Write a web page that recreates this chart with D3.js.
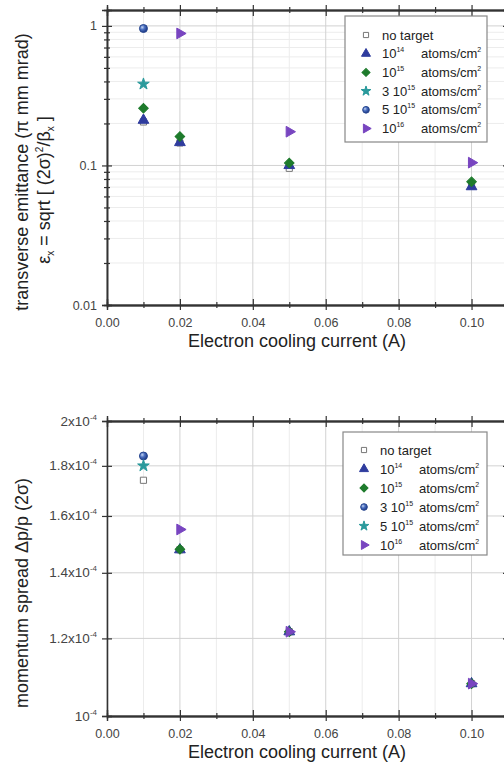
<!DOCTYPE html>
<html>
<head>
<meta charset="utf-8">
<script src="https://cdn.jsdelivr.net/npm/d3@7"></script>
<style>
  body { margin: 0; background: #fff; }
  svg { font-family: "Liberation Sans", Arial, sans-serif; }
</style>
</head>
<body>
<svg class="d3" width="504" height="763"></svg>
<script>
// electron cooling current (A)
var currents = [0.01, 0.02, 0.05, 0.10];

// transverse emittance (pi mm mrad), in legend order of the top panel
var emitNoTarget = [0.205, 0.145, 0.0954, 0.0712];
var emit1e14     = [0.211, 0.146, 0.100, 0.0705];
var emit1e15     = [0.257, 0.161, 0.104, 0.0765];
var emit3e15     = [0.383, null, null, null];     // star
var emit5e15     = [0.958, null, null, null];     // ball
var emit1e16     = [null, 0.883, 0.1745, 0.1047];

// momentum spread dp/p (2 sigma), in legend order of the bottom panel
var dpNoTarget = [1.740e-4, 1.478e-4, 1.219e-4, 1.079e-4];
var dp1e14     = [null, 1.478e-4, 1.219e-4, 1.079e-4];
var dp1e15     = [null, 1.480e-4, 1.219e-4, 1.079e-4];
var dp3e15     = [1.842e-4, null, null, null];    // ball
var dp5e15     = [1.800e-4, null, null, null];    // star
var dp1e16     = [null, 1.550e-4, 1.219e-4, 1.079e-4];

var xTicks = [0, 0.02, 0.04, 0.06, 0.08, 0.10];
var xMinor = [0.01, 0.03, 0.05, 0.07, 0.09, 0.11];
var emitTicks = [0.01, 0.1, 1];
var emitMinor = [0.02, 0.03, 0.04, 0.05, 0.06, 0.07, 0.08, 0.09,
                 0.2, 0.3, 0.4, 0.5, 0.6, 0.7, 0.8, 0.9];
var dpTicks = [1e-4, 1.2e-4, 1.4e-4, 1.6e-4, 1.8e-4, 2e-4];
var dpTickText = ["10", "1.2x10", "1.4x10", "1.6x10", "1.8x10", "2x10"];

// legend labels: [prefix, exponent] ; null exponent = plain text
var legendTop = [["no target", null], ["10", "14"], ["10", "15"],
                 ["3 10", "15"], ["5 10", "15"], ["10", "16"]];
var legendBottom = [["no target", null], ["10", "14"], ["10", "15"],
                    ["3 10", "15"], ["5 10", "15"], ["10", "16"]];

var markers = {
  square:  { fill: "#fff",    stroke: "#777" },
  tri:     { fill: "#2f3c9e", stroke: "#2f3c9e" },
  diamond: { fill: "#1e7b2c", stroke: "#1e7b2c" },
  star:    { fill: "#2a9a9c", stroke: "#2a9a9c" },
  ball:    { fill: "url(#ball)", stroke: "#27468f" },
  right:   { fill: "#7845c0", stroke: "#7845c0" }
};

var svg = d3.select("svg.d3");

// shaded ball marker
var grad = svg.append("defs").append("radialGradient")
    .attr("id", "ball").attr("cx", "35%").attr("cy", "35%").attr("r", "65%");
grad.append("stop").attr("offset", "0%").attr("stop-color", "#c4d4f2");
grad.append("stop").attr("offset", "45%").attr("stop-color", "#4a6fc0");
grad.append("stop").attr("offset", "100%").attr("stop-color", "#1f3a86");

var x = d3.scaleLinear().domain([0, 0.11]).range([107, 508]);

function markerPath(kind, scale) {
  scale = scale || 1;
  if (kind === "square") return d3.symbol(d3.symbolSquare, 38 * scale)();
  if (kind === "tri" || kind === "right") return d3.symbol(d3.symbolTriangle, 50 * scale)();
  if (kind === "diamond") return d3.symbol(d3.symbolSquare, 46 * scale)();
  if (kind === "star") return d3.symbol(d3.symbolStar, 42 * scale)();
  return d3.symbol(d3.symbolCircle, 50 * scale)();
}

function markerRotate(kind) {
  if (kind === "diamond") return " rotate(45)";
  if (kind === "right") return " rotate(90)";
  return "";
}

function drawPanel(p) {
  var g = svg.append("g");
  var y = p.y;
  var x0 = x.range()[0], x1 = x.range()[1];
  var y0 = y.range()[0], y1 = y.range()[1];

  // grid
  g.append("g").selectAll("line").data(xMinor).enter().append("line")
      .attr("x1", x).attr("x2", x).attr("y1", y0).attr("y2", y1)
      .attr("stroke", "#ececec");
  if (p.yMinor) {
    g.append("g").selectAll("line").data(p.yMinor).enter().append("line")
        .attr("x1", x0).attr("x2", x1).attr("y1", y).attr("y2", y)
        .attr("stroke", "#ececec");
  }
  g.append("g").selectAll("line").data(xTicks).enter().append("line")
      .attr("x1", x).attr("x2", x).attr("y1", y0).attr("y2", y1)
      .attr("stroke", "#d2d2d2");
  g.append("g").selectAll("line").data(p.yTicks).enter().append("line")
      .attr("x1", x0).attr("x2", x1).attr("y1", y).attr("y2", y)
      .attr("stroke", "#d2d2d2");

  // axes: outward ticks with labels, then inward ticks, on all four sides
  var bottomOut = d3.axisBottom(x).tickValues(xTicks).tickSize(5).tickPadding(8)
      .tickFormat(d3.format(".2f"));
  var bottomIn = d3.axisBottom(x).tickValues(xTicks).tickSize(-6).tickFormat("");
  var bottomMinor = d3.axisBottom(x).tickValues(xMinor).tickSize(3).tickFormat("");
  var bottomMinorIn = d3.axisBottom(x).tickValues(xMinor).tickSize(-3).tickFormat("");

  var axes = g.append("g");
  [bottomOut, bottomIn, bottomMinor, bottomMinorIn].forEach(function(a) {
    axes.append("g").attr("class", "ax").attr("transform", "translate(0," + y0 + ")").call(a);
    axes.append("g").attr("class", "ax").attr("transform", "translate(0," + y1 + ")")
        .call(d3.axisTop(x).tickValues(a.tickValues()).tickSize(a.tickSizeInner()).tickFormat(""));
  });

  var leftOut = d3.axisLeft(y).tickValues(p.yTicks).tickSize(5).tickPadding(5).tickFormat("");
  var leftIn = d3.axisLeft(y).tickValues(p.yTicks).tickSize(-5).tickFormat("");
  var leftSet = [leftOut, leftIn];
  if (p.yMinor) {
    leftSet.push(d3.axisLeft(y).tickValues(p.yMinor).tickSize(3).tickFormat(""));
    leftSet.push(d3.axisLeft(y).tickValues(p.yMinor).tickSize(-3).tickFormat(""));
  }
  leftSet.forEach(function(a) {
    axes.append("g").attr("class", "ax").attr("transform", "translate(" + x0 + ",0)").call(a);
    axes.append("g").attr("class", "ax").attr("transform", "translate(" + x1 + ",0)")
        .call(d3.axisRight(y).tickValues(a.tickValues()).tickSize(a.tickSizeInner()).tickFormat(""));
  });

  axes.selectAll(".ax path.domain").attr("stroke", "#333").attr("stroke-width", 1.3);
  axes.selectAll(".ax line").attr("stroke", "#333").attr("stroke-width", 1.2);
  axes.selectAll(".ax text").attr("font-size", 12.5).attr("fill", "#444")
      .attr("font-family", "Liberation Sans, Arial, sans-serif");

  // y tick labels (with superscripts where needed)
  var yl = g.append("g").selectAll("text").data(p.yTicks).enter().append("text")
      .attr("x", x0 - 10).attr("y", function(d) { return y(d) + 4.5; })
      .attr("text-anchor", "end").attr("font-size", p.yFont).attr("fill", "#444");
  yl.append("tspan").text(function(d, i) { return p.yText[i]; });
  if (p.yExp) {
    yl.append("tspan").attr("font-size", 8).attr("dy", -6).text(p.yExp);
  }

  // axis titles
  g.append("text").attr("x", 297).attr("y", y0 + 42)
      .attr("text-anchor", "middle").attr("font-size", 18).attr("fill", "#222")
      .text("Electron cooling current (A)");
  p.yTitle(g);

  // points
  var pts = g.append("g");
  p.series.forEach(function(s) {
    var m = markers[s.kind];
    var rows = currents.map(function(c, i) { return [c, s.values[i]]; })
        .filter(function(d) { return d[1] != null; });
    pts.selectAll(null).data(rows).enter().append("path")
        .attr("transform", function(d) {
          return "translate(" + x(d[0]) + "," + y(d[1]) + ")" + markerRotate(s.kind);
        })
        .attr("d", markerPath(s.kind))
        .attr("fill", m.fill).attr("stroke", m.stroke).attr("stroke-width", 1);
  });

  // legend
  var L = p.legend;
  var lg = g.append("g");
  lg.append("rect").attr("x", L.x).attr("y", L.y).attr("width", L.w).attr("height", L.h)
      .attr("fill", "#fff").attr("stroke", "#888").attr("stroke-width", 1.2);
  p.series.forEach(function(s, i) {
    var m = markers[s.kind];
    var cy = L.y + L.first + i * L.step;
    lg.append("path")
        .attr("transform", "translate(" + (L.x + 21) + "," + cy + ")" + markerRotate(s.kind))
        .attr("d", markerPath(s.kind, 0.7))
        .attr("fill", m.fill).attr("stroke", m.stroke).attr("stroke-width", 1);
    var lab = s.label;
    var t = lg.append("text").attr("x", L.x + 37).attr("y", cy + 4.5)
        .attr("font-size", 13).attr("fill", "#222");
    t.append("tspan").text(lab[0]);
    if (lab[1] != null) {
      t.append("tspan").attr("font-size", 7).attr("dy", -6).text(lab[1]);
      var a = lg.append("text").attr("x", L.x + 76).attr("y", cy + 4.5)
          .attr("font-size", 13).attr("fill", "#222");
      a.append("tspan").text("atoms/cm");
      a.append("tspan").attr("font-size", 7).attr("dy", -6).text("2");
    }
  });
}

// top panel: transverse emittance
drawPanel({
  y: d3.scaleLog().domain([0.01, 1.3]).range([305, 10]),
  yTicks: emitTicks,
  yMinor: emitMinor,
  yText: ["0.01", "0.1", "1"],
  yExp: null,
  yFont: 12.5,
  series: [
    { kind: "square",  values: emitNoTarget, label: legendTop[0] },
    { kind: "tri",     values: emit1e14,     label: legendTop[1] },
    { kind: "diamond", values: emit1e15,     label: legendTop[2] },
    { kind: "star",    values: emit3e15,     label: legendTop[3] },
    { kind: "ball",    values: emit5e15,     label: legendTop[4] },
    { kind: "right",   values: emit1e16,     label: legendTop[5] }
  ],
  legend: { x: 345, y: 16, w: 142, h: 126, first: 19, step: 18.7 },
  yTitle: function(g) {
    g.append("text").attr("transform", "translate(28,172) rotate(-90)")
        .attr("text-anchor", "middle").attr("font-size", 18).attr("fill", "#222")
        .text("transverse emittance (\u03c0 mm mrad)");
    var t = g.append("text").attr("transform", "translate(50,190) rotate(-90)")
        .attr("text-anchor", "middle").attr("font-size", 18).attr("fill", "#222");
    t.append("tspan").text("\u03b5");
    t.append("tspan").attr("font-size", 10).attr("dy", 4).text("x");
    t.append("tspan").attr("dy", -4).text(" = sqrt [ (2\u03c3)");
    t.append("tspan").attr("font-size", 10).attr("dy", -7).text("2");
    t.append("tspan").attr("dy", 7).text("/\u03b2");
    t.append("tspan").attr("font-size", 10).attr("dy", 4).text("x");
    t.append("tspan").attr("dy", -4).text(" ]");
  }
});

// bottom panel: momentum spread
drawPanel({
  y: d3.scaleLog().domain([1e-4, 2e-4]).range([716, 421]),
  yTicks: dpTicks,
  yMinor: null,
  yText: dpTickText,
  yExp: "-4",
  yFont: 13.5,
  series: [
    { kind: "square",  values: dpNoTarget, label: legendBottom[0] },
    { kind: "tri",     values: dp1e14,     label: legendBottom[1] },
    { kind: "diamond", values: dp1e15,     label: legendBottom[2] },
    { kind: "ball",    values: dp3e15,     label: legendBottom[3] },
    { kind: "star",    values: dp5e15,     label: legendBottom[4] },
    { kind: "right",   values: dp1e16,     label: legendBottom[5] }
  ],
  legend: { x: 343, y: 432, w: 144, h: 123, first: 18, step: 19 },
  yTitle: function(g) {
    g.append("text").attr("transform", "translate(28,593) rotate(-90)")
        .attr("text-anchor", "middle").attr("font-size", 18).attr("fill", "#222")
        .text("momentum spread \u0394p/p (2\u03c3)");
  }
});
</script>
</body>
</html>
